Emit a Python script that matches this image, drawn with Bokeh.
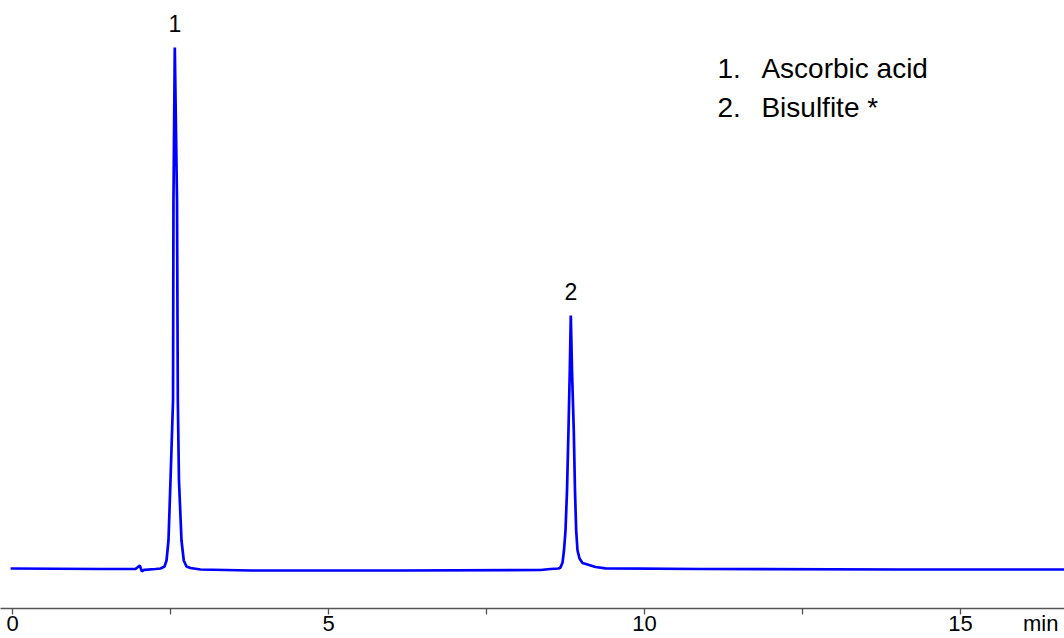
from bokeh.plotting import figure
from bokeh.models import Range1d, FixedTicker, Label
from bokeh.core.properties import value
from bokeh.embed import file_html
from bokeh.resources import INLINE

# Chromatogram trace: retention time (min) and detector signal (arbitrary units)
time_min = [-0.03, 1.39, 1.946, 2.014, 2.046, 2.089, 2.263, 2.342, 2.405, 2.437, 2.468,
            2.50, 2.54, 2.547, 2.568, 2.603, 2.616, 2.634, 2.674, 2.71, 2.753, 2.816,
            2.975, 3.766, 6.139, 8.354, 8.513, 8.639, 8.671, 8.703, 8.726, 8.75, 8.774,
            8.797, 8.818, 8.834, 8.853, 8.881, 8.90, 8.919, 8.94, 8.972, 9.019, 9.098,
            9.225, 9.383, 10.886, 14.05, 16.65]
signal = [0.0, -0.5, -0.5, 3.0, -2.7, -1.3, -0.5, 0.0, 2.0, 8.0, 28.0,
          88.0, 168.0, 368.0, 521.0, 368.0, 168.0, 88.0, 28.0, 8.0, 2.0, 0.5,
          -1.0, -2.0, -2.0, -1.5, -0.5, 0.0, 1.0, 6.0, 18.0, 38.0, 78.0,
          138.0, 198.0, 253.0, 198.0, 138.0, 78.0, 38.0, 18.0, 10.0, 5.5, 4.0,
          1.5, 0.2, -0.5, -1.0, -1.0]

# Peak annotations
peak_labels = ["1", "2"]
peak_times = [2.568, 8.834]
peak_heights = [521.0, 253.0]

# Legend entries
legend_nums = ["1.", "2."]
legend_names = ["Ascorbic acid", "Bisulfite *"]

# Axis ticks and labels
tick_values = [0, 5, 10, 15]
tick_labels = ["0", "5", "10", "15"]
tick_marks = [0, 2.5, 5, 7.5, 10, 12.5, 15]
unit_label = "min"
unit_label_pos = 16.27

FONT = "Liberation Sans"
PX_PER_MIN = 63.2
W, H = 1064, 638

x0 = -12 / PX_PER_MIN
p = figure(width=W, height=H, output_backend="svg", toolbar_location=None,
           y_axis_location=None, min_border=0, min_border_bottom=30,
           x_range=Range1d(x0, x0 + W / PX_PER_MIN),
           y_range=Range1d(-40, 568))
p.outline_line_color = None
p.grid.visible = False
p.background_fill_color = "white"

p.line(time_min, signal, line_color="#0000FF", line_width=2.7)

p.text(x=peak_times, y=peak_heights, text=peak_labels, y_offset=-24,
       text_align="center", text_baseline="alphabetic",
       text_font=value(FONT), text_font_size="23px", text_color="black")

ax = p.xaxis[0]
ax.ticker = FixedTicker(ticks=tick_values + [unit_label_pos], minor_ticks=tick_marks)
overrides = {v: lab for v, lab in zip(tick_values, tick_labels)}
overrides[unit_label_pos] = unit_label
ax.major_label_overrides = overrides
ax.axis_line_color = "#555555"
ax.axis_line_width = 1.5
ax.major_tick_line_color = None
ax.major_tick_in = 0
ax.major_tick_out = 0
ax.minor_tick_line_color = "#555555"
ax.minor_tick_line_width = 1.3
ax.minor_tick_in = 0
ax.minor_tick_out = 6
ax.major_label_standoff = -4
ax.major_label_text_font = FONT
ax.major_label_text_font_size = "22px"
ax.major_label_text_color = "black"

for i, (num, name) in enumerate(zip(legend_nums, legend_names)):
    yv = 500 - 39 * i
    p.add_layout(Label(x=11.155, y=yv, text=num, text_font=FONT, text_font_size="28px",
                       text_baseline="middle", text_color="black"))
    p.add_layout(Label(x=11.85, y=yv, text=name, text_font=FONT, text_font_size="28px",
                       text_baseline="middle", text_color="black"))

open("out.html", "w").write(file_html(p, INLINE))
